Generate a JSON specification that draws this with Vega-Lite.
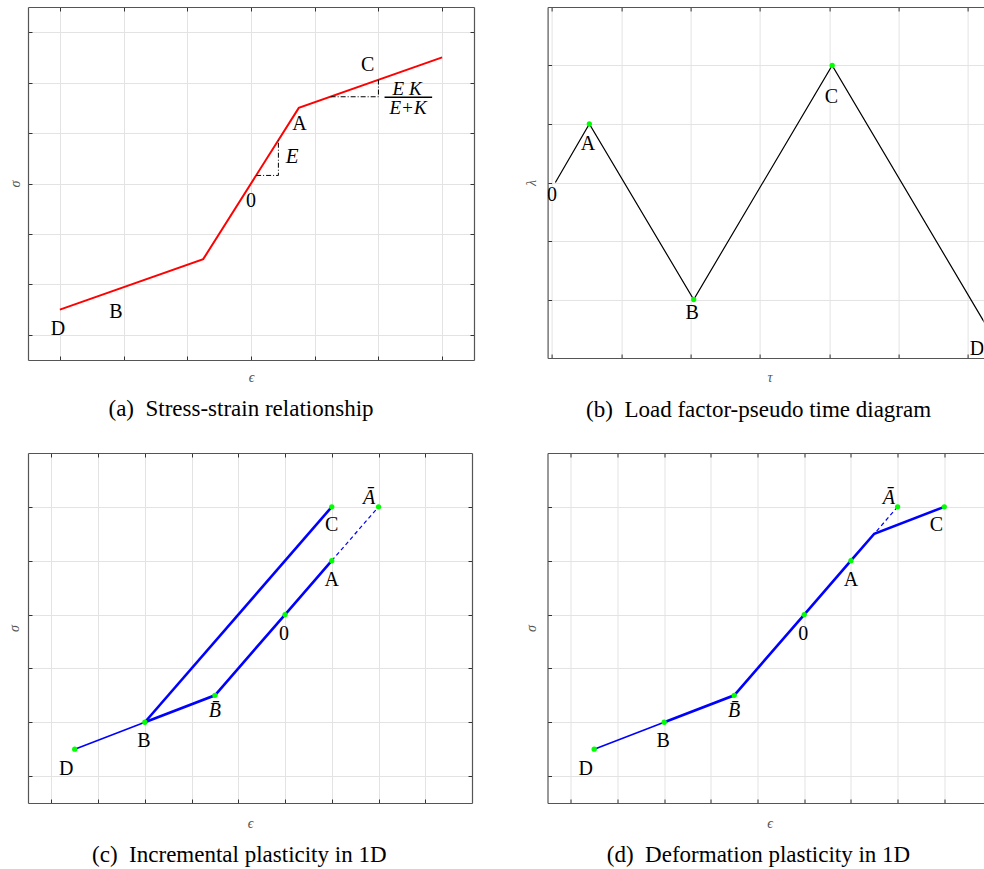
{
  "$schema": "https://vega.github.io/schema/vega-lite/v6.json",
  "background": "white",
  "padding": {"left": 7, "top": 6, "right": 0, "bottom": 0},
  "datasets": {
    "a_line": [{"x": -3, "y": -2.5, "o": 1}, {"x": -0.75, "y": -1.5, "o": 2}, {"x": 0.75, "y": 1.5, "o": 3}, {"x": 3, "y": 2.5, "o": 4}],
    "a_dash": [{"g": 1, "o": 1, "x": 0.08, "y": 0.16}, {"g": 1, "o": 2, "x": 0.43, "y": 0.16}, {"g": 1, "o": 3, "x": 0.43, "y": 0.86}, {"g": 2, "o": 1, "x": 1.25, "y": 1.72}, {"g": 2, "o": 2, "x": 2.0, "y": 1.72}, {"g": 2, "o": 3, "x": 2.0, "y": 2.055}],
    "a_labels": [{"t": "D", "x": -3.03, "y": -2.89}, {"t": "B", "x": -2.12, "y": -2.54}, {"t": "0", "x": 0, "y": -0.34}, {"t": "A", "x": 0.76, "y": 1.17}, {"t": "C", "x": 1.83, "y": 2.34}],
    "a_e": [{"t": "E", "x": 0.646, "y": 0.535}],
    "a_frac": [{"t": "E K", "x": 2.45, "y": 1.87}, {"t": "E+K", "x": 2.465, "y": 1.49}],
    "a_bar": [{"x": 2.096, "x2": 2.843, "y": 1.71}],
    "b_line": [{"x": 0.048, "y": 0, "o": 1}, {"x": 0.538, "y": 1, "o": 2}, {"x": 2.043, "y": -2, "o": 3}, {"x": 4.04, "y": 2, "o": 4}, {"x": 6.54, "y": -3, "o": 5}],
    "b_dots": [{"x": 0.538, "y": 1}, {"x": 2.043, "y": -2}, {"x": 4.04, "y": 2}],
    "b_labels": [{"t": "0", "x": 0, "y": -0.22}, {"t": "A", "x": 0.52, "y": 0.65}, {"t": "B", "x": 2.02, "y": -2.23}, {"t": "C", "x": 4.03, "y": 1.46}, {"t": "D", "x": 6.13, "y": -2.84}],
    "c_thick": [{"s": 1, "o": 1, "x": 1, "y": 2}, {"s": 1, "o": 2, "x": -3, "y": -2}, {"s": 2, "o": 1, "x": -3, "y": -2}, {"s": 2, "o": 2, "x": -1.5, "y": -1.5}, {"s": 2, "o": 3, "x": 0, "y": 0}, {"s": 2, "o": 4, "x": 1, "y": 1}],
    "c_thin": [{"o": 1, "x": -4.5, "y": -2.5}, {"o": 2, "x": -3, "y": -2}],
    "c_dash": [{"o": 1, "x": 1, "y": 1}, {"o": 2, "x": 2, "y": 2}],
    "c_dots": [{"x": 1, "y": 2}, {"x": 2, "y": 2}, {"x": 1, "y": 1}, {"x": 0, "y": 0}, {"x": -1.5, "y": -1.5}, {"x": -3, "y": -2}, {"x": -4.5, "y": -2.5}],
    "c_labels": [{"t": "C", "x": 1, "y": 1.66}, {"t": "A", "x": 1, "y": 0.65}, {"t": "0", "x": -0.02, "y": -0.36}, {"t": "B", "x": -3.02, "y": -2.35}, {"t": "D", "x": -4.68, "y": -2.86}],
    "c_ital": [{"t": "Ā", "x": 1.8, "y": 2.16}, {"t": "B̄", "x": -1.5, "y": -1.79}],
    "d_thick": [{"o": 1, "x": -3, "y": -2}, {"o": 2, "x": -1.5, "y": -1.5}, {"o": 3, "x": 0, "y": 0}, {"o": 4, "x": 1, "y": 1}, {"o": 5, "x": 1.5, "y": 1.5}, {"o": 6, "x": 3, "y": 2}],
    "d_thin": [{"o": 1, "x": -4.5, "y": -2.5}, {"o": 2, "x": -3, "y": -2}],
    "d_dash": [{"o": 1, "x": 1.55, "y": 1.55}, {"o": 2, "x": 2, "y": 2}],
    "d_dots": [{"x": 2, "y": 2}, {"x": 3, "y": 2}, {"x": 1, "y": 1}, {"x": 0, "y": 0}, {"x": -1.5, "y": -1.5}, {"x": -3, "y": -2}, {"x": -4.5, "y": -2.5}],
    "d_labels": [{"t": "C", "x": 2.83, "y": 1.66}, {"t": "A", "x": 1, "y": 0.65}, {"t": "0", "x": -0.02, "y": -0.36}, {"t": "B", "x": -3.02, "y": -2.35}, {"t": "D", "x": -4.68, "y": -2.86}],
    "d_ital": [{"t": "Ā", "x": 1.81, "y": 2.16}, {"t": "B̄", "x": -1.5, "y": -1.79}]
  },
  "vconcat": [
    {
      "hconcat": [
        {
          "width": 446, "height": 353,
          "title": {"text": "(a)\u2002Stress-strain relationship", "orient": "bottom", "anchor": "middle", "baseline": "alphabetic", "dx": -10, "offset": 31},
          "layer": [
            {"data": {"name": "a_line"}, "mark": {"type": "line", "color": "#ff0000", "strokeWidth": 2},
             "encoding": {
               "x": {"field": "x", "type": "quantitative", "scale": {"domain": [-3.5, 3.5], "nice": false, "zero": false}, "axis": {"orient": "bottom", "values": [-3, -2, -1, 0, 1, 2, 3], "title": "ϵ", "grid": true, "titlePadding": 10}},
               "y": {"field": "y", "type": "quantitative", "scale": {"domain": [-3.5, 3.5], "nice": false, "zero": false}, "axis": {"orient": "left", "values": [-3, -2, -1, 0, 1, 2, 3], "title": "σ", "grid": true, "titlePadding": 5.5}},
               "order": {"field": "o"}}},
            {"data": {"name": "a_dash"}, "mark": {"type": "line", "color": "#000000", "strokeWidth": 1, "strokeDash": [5, 2, 1, 2]},
             "encoding": {
               "x": {"field": "x", "type": "quantitative", "axis": {"orient": "top", "values": [-3, -2, -1, 0, 1, 2, 3], "title": null, "grid": false}},
               "y": {"field": "y", "type": "quantitative", "axis": {"orient": "right", "values": [-3, -2, -1, 0, 1, 2, 3], "title": null, "grid": false}},
               "detail": {"field": "g"}, "order": {"field": "o"}}},
            {"data": {"name": "a_labels"}, "mark": {"type": "text", "align": "center", "baseline": "middle"},
             "encoding": {"x": {"field": "x", "type": "quantitative", "axis": null}, "y": {"field": "y", "type": "quantitative", "axis": null}, "text": {"field": "t"}}},
            {"data": {"name": "a_e"}, "mark": {"type": "text", "align": "center", "baseline": "middle", "fontStyle": "italic", "fontSize": 21},
             "encoding": {"x": {"field": "x", "type": "quantitative", "axis": null}, "y": {"field": "y", "type": "quantitative", "axis": null}, "text": {"field": "t"}}},
            {"data": {"name": "a_frac"}, "mark": {"type": "text", "align": "center", "baseline": "middle", "fontStyle": "italic", "fontSize": 19},
             "encoding": {"x": {"field": "x", "type": "quantitative", "axis": null}, "y": {"field": "y", "type": "quantitative", "axis": null}, "text": {"field": "t"}}},
            {"data": {"name": "a_bar"}, "mark": {"type": "rule", "color": "#000000", "strokeWidth": 1.6},
             "encoding": {"x": {"field": "x", "type": "quantitative", "axis": null}, "x2": {"field": "x2"}, "y": {"field": "y", "type": "quantitative", "axis": null}}}
          ],
          "resolve": {"axis": {"x": "independent", "y": "independent"}}
        },
        {
          "width": 436, "height": 351,
          "title": {"text": "(b)\u2002Load factor-pseudo time diagram", "orient": "bottom", "anchor": "middle", "baseline": "alphabetic", "dx": -7, "offset": 31.6},
          "layer": [
            {"data": {"name": "b_line"}, "mark": {"type": "line", "color": "#000000", "strokeWidth": 1.2, "clip": true},
             "encoding": {
               "x": {"field": "x", "type": "quantitative", "scale": {"domain": [-0.064, 6.224], "nice": false, "zero": false}, "axis": {"orient": "bottom", "values": [0, 1, 2, 3, 4, 5, 6], "title": "τ", "grid": true, "titlePadding": 12.4, "titleX": 222}},
               "y": {"field": "y", "type": "quantitative", "scale": {"domain": [-3, 3], "nice": false, "zero": false}, "axis": {"orient": "left", "values": [-2, -1, 0, 1, 2], "title": "λ", "grid": true, "titlePadding": 8.6}},
               "order": {"field": "o"}}},
            {"data": {"name": "b_dots"}, "mark": {"type": "circle", "color": "#00ff00", "size": 28, "opacity": 1},
             "encoding": {
               "x": {"field": "x", "type": "quantitative", "axis": {"orient": "top", "values": [0, 1, 2, 3, 4, 5, 6], "title": null, "grid": false}},
               "y": {"field": "y", "type": "quantitative", "axis": null}}},
            {"data": {"name": "b_labels"}, "mark": {"type": "text", "align": "center", "baseline": "middle", "clip": true},
             "encoding": {"x": {"field": "x", "type": "quantitative", "axis": null}, "y": {"field": "y", "type": "quantitative", "axis": null}, "text": {"field": "t"}}}
          ],
          "resolve": {"axis": {"x": "independent", "y": "independent"}}
        }
      ],
      "spacing": 48.6
    },
    {
      "hconcat": [
        {
          "width": 444, "height": 350,
          "title": {"text": "(c)\u2002Incremental plasticity in 1D", "orient": "bottom", "anchor": "middle", "baseline": "alphabetic", "dx": -10.7, "offset": 30.6},
          "layer": [
            {"data": {"name": "c_thick"}, "mark": {"type": "line", "color": "#0000ff", "strokeWidth": 2.6},
             "encoding": {
               "x": {"field": "x", "type": "quantitative", "scale": {"domain": [-5.5, 4.0], "nice": false, "zero": false}, "axis": {"orient": "bottom", "values": [-5, -4, -3, -2, -1, 0, 1, 2, 3], "title": "ϵ", "grid": true, "titlePadding": 13.4}},
               "y": {"field": "y", "type": "quantitative", "scale": {"domain": [-3.5, 3], "nice": false, "zero": false}, "axis": {"orient": "left", "values": [-3, -2, -1, 0, 1, 2], "title": "σ", "grid": true, "titlePadding": 6.5}},
               "detail": {"field": "s"}, "order": {"field": "o"}}},
            {"data": {"name": "c_thin"}, "mark": {"type": "line", "color": "#0000ff", "strokeWidth": 1.6},
             "encoding": {
               "x": {"field": "x", "type": "quantitative", "axis": {"orient": "top", "values": [-5, -4, -3, -2, -1, 0, 1, 2, 3], "title": null, "grid": false}},
               "y": {"field": "y", "type": "quantitative", "axis": {"orient": "right", "values": [-3, -2, -1, 0, 1, 2], "title": null, "grid": false}},
               "order": {"field": "o"}}},
            {"data": {"name": "c_dash"}, "mark": {"type": "line", "color": "#0000ff", "strokeWidth": 1.2, "strokeDash": [4, 3]},
             "encoding": {"x": {"field": "x", "type": "quantitative", "axis": null}, "y": {"field": "y", "type": "quantitative", "axis": null}, "order": {"field": "o"}}},
            {"data": {"name": "c_dots"}, "mark": {"type": "circle", "color": "#00ff00", "size": 28, "opacity": 1},
             "encoding": {"x": {"field": "x", "type": "quantitative", "axis": null}, "y": {"field": "y", "type": "quantitative", "axis": null}}},
            {"data": {"name": "c_labels"}, "mark": {"type": "text", "align": "center", "baseline": "middle"},
             "encoding": {"x": {"field": "x", "type": "quantitative", "axis": null}, "y": {"field": "y", "type": "quantitative", "axis": null}, "text": {"field": "t"}}},
            {"data": {"name": "c_ital"}, "mark": {"type": "text", "align": "center", "baseline": "middle", "fontStyle": "italic"},
             "encoding": {"x": {"field": "x", "type": "quantitative", "axis": null}, "y": {"field": "y", "type": "quantitative", "axis": null}, "text": {"field": "t"}}}
          ],
          "resolve": {"axis": {"x": "independent", "y": "independent"}}
        },
        {
          "width": 436, "height": 350,
          "title": {"text": "(d)\u2002Deformation plasticity in 1D", "orient": "bottom", "anchor": "middle", "baseline": "alphabetic", "dx": -7, "offset": 30.6},
          "layer": [
            {"data": {"name": "d_thick"}, "mark": {"type": "line", "color": "#0000ff", "strokeWidth": 2.6},
             "encoding": {
               "x": {"field": "x", "type": "quantitative", "scale": {"domain": [-5.5, 3.84], "nice": false, "zero": false}, "axis": {"orient": "bottom", "values": [-5, -4, -3, -2, -1, 0, 1, 2, 3], "title": "ϵ", "grid": true, "titlePadding": 13.4, "titleX": 222}},
               "y": {"field": "y", "type": "quantitative", "scale": {"domain": [-3.5, 3], "nice": false, "zero": false}, "axis": {"orient": "left", "values": [-3, -2, -1, 0, 1, 2], "title": "σ", "grid": true, "titlePadding": 8.7}},
               "order": {"field": "o"}}},
            {"data": {"name": "d_thin"}, "mark": {"type": "line", "color": "#0000ff", "strokeWidth": 1.6},
             "encoding": {
               "x": {"field": "x", "type": "quantitative", "axis": {"orient": "top", "values": [-5, -4, -3, -2, -1, 0, 1, 2, 3], "title": null, "grid": false}},
               "y": {"field": "y", "type": "quantitative", "axis": null},
               "order": {"field": "o"}}},
            {"data": {"name": "d_dash"}, "mark": {"type": "line", "color": "#0000ff", "strokeWidth": 1.2, "strokeDash": [4, 3]},
             "encoding": {"x": {"field": "x", "type": "quantitative", "axis": null}, "y": {"field": "y", "type": "quantitative", "axis": null}, "order": {"field": "o"}}},
            {"data": {"name": "d_dots"}, "mark": {"type": "circle", "color": "#00ff00", "size": 28, "opacity": 1},
             "encoding": {"x": {"field": "x", "type": "quantitative", "axis": null}, "y": {"field": "y", "type": "quantitative", "axis": null}}},
            {"data": {"name": "d_labels"}, "mark": {"type": "text", "align": "center", "baseline": "middle"},
             "encoding": {"x": {"field": "x", "type": "quantitative", "axis": null}, "y": {"field": "y", "type": "quantitative", "axis": null}, "text": {"field": "t"}}},
            {"data": {"name": "d_ital"}, "mark": {"type": "text", "align": "center", "baseline": "middle", "fontStyle": "italic"},
             "encoding": {"x": {"field": "x", "type": "quantitative", "axis": null}, "y": {"field": "y", "type": "quantitative", "axis": null}, "text": {"field": "t"}}}
          ],
          "resolve": {"axis": {"x": "independent", "y": "independent"}}
        }
      ],
      "spacing": 50.5
    }
  ],
  "spacing": 30,
  "config": {
    "view": {"stroke": null},
    "axis": {"labels": false, "domain": true, "domainColor": "#555555", "domainWidth": 1.2, "ticks": true, "tickColor": "#333333", "tickSize": -4, "tickWidth": 1, "gridColor": "#e3e3e3", "gridWidth": 1, "titleFont": "Liberation Serif", "titleFontStyle": "italic", "titleFontWeight": "normal", "titleFontSize": 14, "titleColor": "#555555"},
    "text": {"font": "Liberation Serif", "fontSize": 20, "color": "#000000"},
    "title": {"font": "Liberation Serif", "fontSize": 23, "fontWeight": "normal", "color": "#000000"}
  }
}
